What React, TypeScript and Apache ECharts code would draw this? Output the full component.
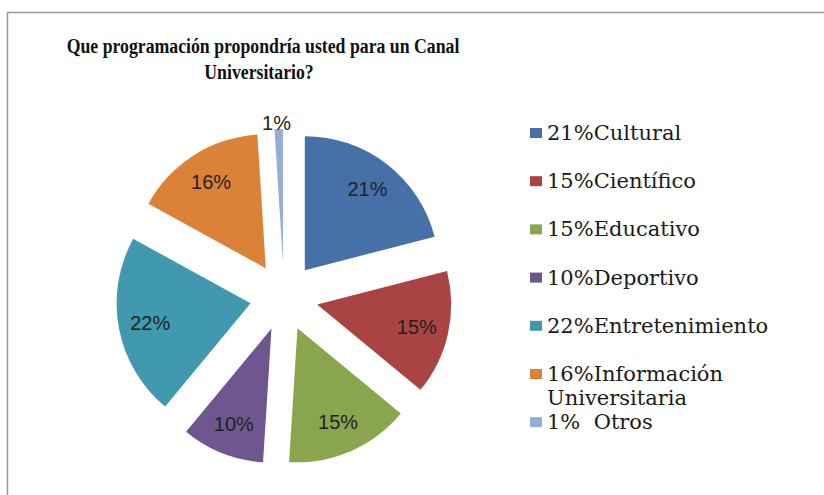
import React, { useEffect, useRef } from "react";
import * as echarts from "echarts";

const titleLines = ["Que programación propondría usted para un Canal", "Universitario?"];
const categories = [
  "21%Cultural",
  "15%Científico",
  "15%Educativo",
  "10%Deportivo",
  "22%Entretenimiento",
  "16%Información",
  "1%  Otros",
];
const categoryExtraLine = ["", "", "", "", "", "Universitaria", ""];
const values = [21, 15, 15, 10, 22, 16, 1];
const colors = ["#4671A8", "#AA4442", "#89A64E", "#6F568F", "#4099AF", "#DC8238", "#95AED7"];

const CX = 284;
const CY = 297;
const R = 134;
const OFFSET = 34;

export default function App() {
  const ref = useRef<HTMLDivElement>(null);
  useEffect(() => {
    if (!ref.current) return;
    const chart = echarts.init(ref.current, null, { renderer: "svg" });
    const smallCut = 5;
    const baseData = categories.map((name, i) => ({
      name,
      value: values[i],
      selected: true,
      itemStyle: { color: colors[i] },
    }));
    const legendTop = 116;
    const legendStep = 48.2;
    const legendFont = "'DejaVu Serif', serif";
    const extraTexts: any[] = [];
    categoryExtraLine.forEach((t, i) => {
      if (t) {
        extraTexts.push({
          type: "text",
          x: 547,
          y: legendTop + 5 + 12 + i * legendStep + 24,
          silent: true,
          style: {
            text: t,
            font: `21px ${legendFont}`,
            fill: "#1a1a1a",
            textVerticalAlign: "middle",
          },
        });
      }
    });
    const titleTexts = titleLines.map((t, i) => ({
      type: "text",
      x: i === 0 ? 263 : 259,
      y: 46 + i * 25.5,
      scaleX: 0.845,
      silent: true,
      style: {
        text: t,
        font: "bold 21px 'Liberation Serif', serif",
        fill: "#111",
        textAlign: "center",
        textVerticalAlign: "middle",
      },
    }));
    chart.setOption({
      animation: false,
      backgroundColor: "#ffffff",
      legend: {
        orient: "vertical",
        left: 525,
        top: legendTop,
        itemWidth: 12,
        itemHeight: 10,
        itemGap: legendStep - 24,
        icon: "rect",
        selectedMode: false,
        data: categories,
        textStyle: {
          fontFamily: legendFont,
          fontSize: 21,
          lineHeight: 24,
          color: "#1a1a1a",
        },
      },
      graphic: [
        {
          type: "rect",
          silent: true,
          shape: { x: 7.5, y: 12.5, width: 840, height: 500 },
          style: { fill: "none", stroke: "#9a9a9a", lineWidth: 1.5 },
        },
        ...titleTexts,
        ...extraTexts,
      ],
      series: [
        {
          type: "pie",
          center: [CX, CY],
          radius: R,
          startAngle: 90,
          clockwise: true,
          selectedMode: "multiple",
          selectedOffset: OFFSET,
          silent: true,
          data: baseData.map((d, i) => ({
            ...d,
            label: { show: values[i] < smallCut },
          })),
          label: {
            show: true,
            position: "outside",
            formatter: "{d}%",
            fontFamily: "'Liberation Sans', Arial, sans-serif",
            fontSize: 20,
            color: "#222",
          },
          labelLine: { show: false, length: 6, length2: 0 },
          labelLayout: () => ({ align: "center", dx: 3 }),
          emphasis: { disabled: true },
        },
        {
          type: "pie",
          center: [CX, CY],
          radius: [R * 0.48, R],
          startAngle: 90,
          clockwise: true,
          selectedMode: "multiple",
          selectedOffset: OFFSET,
          silent: true,
          data: baseData.map((d, i) => ({
            ...d,
            itemStyle: { color: "rgba(0,0,0,0)" },
            label: { show: values[i] >= smallCut },
          })),
          label: {
            show: true,
            position: "inside",
            formatter: "{d}%",
            fontFamily: "'Liberation Sans', Arial, sans-serif",
            fontSize: 20,
            color: "#222",
          },
          labelLine: { show: false },
          emphasis: { disabled: true },
        },
      ],
    });
    return () => chart.dispose();
  }, []);
  return <div ref={ref} style={{ width: 824, height: 495, position: "absolute", left: 0, top: 0 }} />;
}
